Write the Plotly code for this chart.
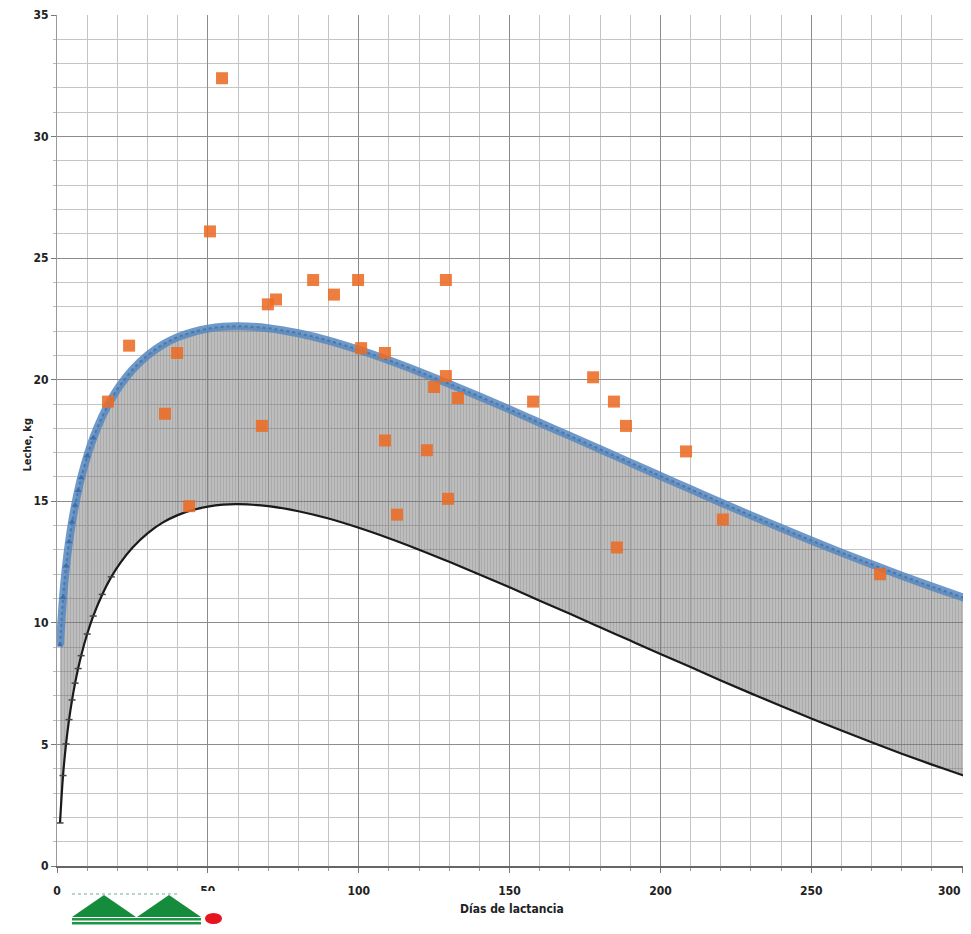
import plotly.graph_objects as go

# ---- data ----
days = [1, 2, 3, 4, 5, 6, 7, 8, 10, 12, 15, 18, 21, 25, 30, 35, 40, 45, 50, 55, 60,
        70, 80, 90, 100, 110, 120, 130, 140, 150, 160, 170, 180, 190, 200,
        210, 220, 230, 240, 250, 260, 270, 280, 290, 300, 303]
upper = [9.09, 11.04, 12.34, 13.34, 14.15, 14.84, 15.44, 15.97, 16.86, 17.60, 18.49, 19.21,
         19.79, 20.41, 21.00, 21.44, 21.75, 21.96, 22.10, 22.18, 22.20,
         22.12, 21.91, 21.61, 21.23, 20.80, 20.33, 19.83, 19.31, 18.78, 18.23, 17.69, 17.14,
         16.59, 16.04, 15.50, 14.95, 14.42, 13.90, 13.39, 12.89, 12.41, 11.94, 11.49, 11.06,
         10.93]
lower = [1.77, 3.72, 5.02, 6.02, 6.83, 7.52, 8.12, 8.65, 9.54, 10.28, 11.17, 11.89,
         12.47, 13.09, 13.68, 14.12, 14.43, 14.64, 14.78, 14.86, 14.88,
         14.80, 14.59, 14.29, 13.91, 13.48, 13.01, 12.51, 11.99, 11.46, 10.91, 10.37, 9.82,
         9.27, 8.72, 8.18, 7.63, 7.10, 6.58, 6.07, 5.57, 5.09, 4.62, 4.17, 3.74, 3.61]

obs_days = [16.9, 23.9, 35.8, 39.8, 43.8, 50.7, 54.7, 67.9, 69.9, 72.6, 84.9, 91.8, 99.8,
            100.8, 108.7, 108.7, 112.7, 122.6, 125.0, 128.9, 128.9, 129.6, 132.9, 157.8,
            177.7, 184.6, 185.6, 188.6, 208.5, 220.7, 272.8]
obs_milk = [19.1, 21.4, 18.6, 21.1, 14.8, 26.1, 32.4, 18.1, 23.1, 23.3, 24.1, 23.5, 24.1,
            21.3, 17.5, 21.1, 14.45, 17.1, 19.7, 24.1, 20.15, 15.1, 19.25, 19.1,
            20.1, 19.1, 13.1, 18.1, 17.05, 14.25, 12.0]

x_ticks = [0, 50, 100, 150, 200, 250, 300]
x_ticktext = ["0", "50", "100", "150", "200", "250", ""]   # "300" placed as annotation
last_x_label = "300"
y_ticks = [0, 5, 10, 15, 20, 25, 30, 35]

FONT = "Liberation Sans Narrow, DejaVu Sans Condensed, Arial Narrow, sans-serif"

fig = go.Figure()

fig.add_trace(go.Scatter(x=days, y=lower, mode="lines",
                         line=dict(width=0, shape="spline", color="rgba(0,0,0,0)"),
                         showlegend=False, hoverinfo="skip"))
fig.add_trace(go.Scatter(x=days, y=upper, mode="lines", fill="tonexty",
                         line=dict(width=0, shape="spline", color="rgba(0,0,0,0)"),
                         fillcolor="rgba(0,0,0,0)",
                         fillpattern=dict(shape="|", size=3, solidity=0.75,
                                          fgcolor="rgba(85,85,85,0.72)",
                                          bgcolor="rgba(150,150,150,0.35)"),
                         showlegend=False, hoverinfo="skip"))
fig.add_trace(go.Scatter(x=days, y=lower, mode="lines",
                         line=dict(width=2.2, shape="spline", color="#1a1a1a"),
                         showlegend=False))
fig.add_trace(go.Scatter(x=days[:12], y=lower[:12], mode="markers",
                         marker=dict(symbol="line-ew", size=5,
                                     line=dict(width=1.5, color="#444444")),
                         showlegend=False))
fig.add_trace(go.Scatter(x=days, y=upper, mode="lines",
                         line=dict(width=8, shape="spline", color="rgba(85,135,190,0.85)"),
                         showlegend=False))
fig.add_trace(go.Scatter(x=days, y=upper, mode="lines",
                         line=dict(width=2, shape="spline", color="rgba(55,100,160,0.6)",
                                   dash="dot"),
                         showlegend=False))
fig.add_trace(go.Scatter(x=days[:10], y=upper[:10], mode="markers",
                         marker=dict(symbol="triangle-up", size=6, color="rgb(60,110,170)"),
                         showlegend=False))
fig.add_trace(go.Scatter(x=obs_days, y=obs_milk, mode="markers",
                         marker=dict(symbol="square", size=12, color="rgb(236,108,36)",
                                     opacity=0.88, line=dict(width=0)),
                         showlegend=False))

# ---- page geometry (the html body has an 8px margin; visible width ends ~963) ----
OFF = 8
L, R, T, B = 57, 963, 15, 866          # plot area in window pixels
W, H = R - OFF, 934 - 2 * OFF

def px(x):
    return (x - L) / (R - L)
def py(y):
    return (B - y) / (B - T)

shapes = []
shapes.append(dict(type="rect", xref="paper", yref="paper",
                   x0=px(66), x1=px(225), y0=py(934), y1=py(891),
                   fillcolor="white", line=dict(width=0), layer="above"))
for (a, b, c) in [(72, 104, 136), (137, 169, 201)]:
    shapes.append(dict(type="path", xref="paper", yref="paper",
                       path=f"M {px(a)} {py(917)} L {px(b)} {py(895)} L {px(c)} {py(917)} Z",
                       fillcolor="rgb(20,140,60)", line=dict(width=0), layer="above"))
for yy in [918, 922]:
    shapes.append(dict(type="rect", xref="paper", yref="paper",
                       x0=px(72), x1=px(201), y0=py(yy + 2.5), y1=py(yy),
                       fillcolor="rgb(30,150,70)", line=dict(width=0), layer="above"))
shapes.append(dict(type="line", xref="paper", yref="paper",
                   x0=px(72), x1=px(180), y0=py(894), y1=py(894),
                   line=dict(color="rgb(120,170,150)", width=1, dash="dot"), layer="above"))
shapes.append(dict(type="circle", xref="paper", yref="paper",
                   x0=px(205), x1=px(222), y0=py(924), y1=py(913),
                   fillcolor="rgb(230,20,30)", line=dict(width=0), layer="above"))

tickfont = dict(family=FONT, size=12, color="#222222", weight="bold")

fig.update_layout(
    width=W, height=H,
    margin=dict(l=L - OFF, r=0, t=T - OFF, b=H - (B - OFF), pad=0,
                autoexpand=False),
    paper_bgcolor="white", plot_bgcolor="white",
    font=dict(family=FONT, size=12, color="#222222"),
    shapes=shapes,
    annotations=[
        dict(text="Leche, kg", xref="paper", yref="paper", x=px(18), y=py(445),
             textangle=-90, showarrow=False,
             font=dict(family=FONT, size=11, color="#222222", weight="bold")),
        dict(text="Días de lactancia", xref="paper", yref="paper", x=px(512), y=py(918),
             showarrow=False,
             font=dict(family=FONT, size=12, color="#222222", weight="bold")),
        dict(text=last_x_label, xref="paper", yref="paper", x=px(962), y=py(891),
             xanchor="right", yanchor="middle", showarrow=False,
             font=tickfont, borderpad=0),
    ],
)
fig.update_xaxes(range=[0, 300.3], tickvals=x_ticks, ticktext=x_ticktext,
                 ticks="outside", ticklen=5,
                 tickcolor="#777", showline=True, linecolor="#666", linewidth=1.5,
                 showgrid=True, gridcolor="#8c8c8c", gridwidth=1,
                 minor=dict(dtick=10, tick0=0, showgrid=True, gridcolor="#c4c4c4",
                            gridwidth=1, ticks="outside", ticklen=3, tickcolor="#999"),
                 zeroline=False, ticklabelstandoff=8, automargin=False,
                 tickfont=tickfont)
fig.update_yaxes(range=[0, 35], tickvals=y_ticks, ticks="outside", ticklen=5,
                 tickcolor="#777", showline=True, linecolor="#999", linewidth=1,
                 showgrid=True, gridcolor="#8c8c8c", gridwidth=1,
                 minor=dict(dtick=1, tick0=0, showgrid=True, gridcolor="#c4c4c4",
                            gridwidth=1, ticks="outside", ticklen=3, tickcolor="#bbb"),
                 zeroline=False, automargin=False,
                 tickfont=tickfont)

fig.write_html("out.html")
